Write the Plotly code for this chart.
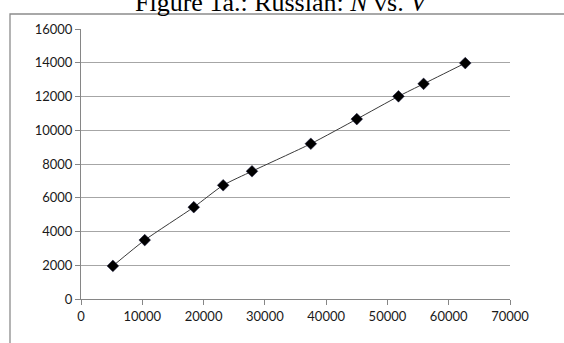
import plotly.graph_objects as go

# Russian: number of items N against volume V
volume = [5200, 10400, 18400, 23200, 27900, 37500, 45000, 51800, 55900, 62700]
n_items = [1960, 3490, 5440, 6740, 7570, 9200, 10660, 12010, 12750, 13980]

x_ticks = [0, 10000, 20000, 30000, 40000, 50000, 60000, 70000]
y_ticks = [0, 2000, 4000, 6000, 8000, 10000, 12000, 14000, 16000]

W, H = 564, 343
L, R, T, B = 81, 54, 29, 44

fig = go.Figure()

# smooth curve through the points
fig.add_trace(go.Scatter(
    x=volume, y=n_items, mode="lines",
    line=dict(color="#3a3a3a", width=1, shape="spline", smoothing=0.6),
    hoverinfo="skip", showlegend=False,
))
fig.add_trace(go.Scatter(
    x=volume, y=n_items, mode="markers",
    marker=dict(symbol="diamond", size=9, color="#000000",
                line=dict(color="#1a1a40", width=0.5)),
    showlegend=False,
))

axis_common = dict(
    showline=True, linecolor="#868686", linewidth=1,
    ticks="outside", ticklen=5, tickcolor="#868686", tickwidth=1,
    tickfont=dict(family="Lato, Open Sans, sans-serif", size=13, color="#1a1a1a"),
    zeroline=False, fixedrange=True,
)

fig.update_xaxes(range=[0, 70000], tickvals=x_ticks,
                 ticktext=[str(v) for v in x_ticks],
                 showgrid=False, **axis_common)
fig.update_yaxes(range=[0, 16000], tickvals=y_ticks,
                 ticktext=[str(v) for v in y_ticks],
                 showgrid=True, gridcolor="#a6a6a6", gridwidth=1,
                 **axis_common)

# chart frame (runs off the right and bottom edges)
frame_left, frame_top = 10, 14
fig.add_shape(
    type="rect", xref="paper", yref="paper",
    x0=(frame_left - L) / (W - L - R), x1=(W + 20 - L) / (W - L - R),
    y0=-(B + 20) / (H - T - B), y1=1 + (T - frame_top) / (H - T - B),
    line=dict(color="#8c8c8c", width=1.3), fillcolor="rgba(0,0,0,0)",
    layer="below",
)

fig.add_annotation(
    text="Figure 1a.: Russian: <i>N</i> vs. <i>V</i>",
    xref="paper", yref="paper",
    x=(282 - L) / (W - L - R), y=1 + (T - 19) / (H - T - B),
    xanchor="center", yanchor="bottom", showarrow=False,
    font=dict(family="Liberation Serif, Times New Roman, serif", size=26, color="#000000"),
)

fig.update_layout(
    width=W, height=H,
    margin=dict(l=L, r=R, t=T, b=B, pad=0),
    paper_bgcolor="#ffffff", plot_bgcolor="#ffffff",
    showlegend=False,
)

fig.write_html("out.html", config={"displayModeBar": False})
